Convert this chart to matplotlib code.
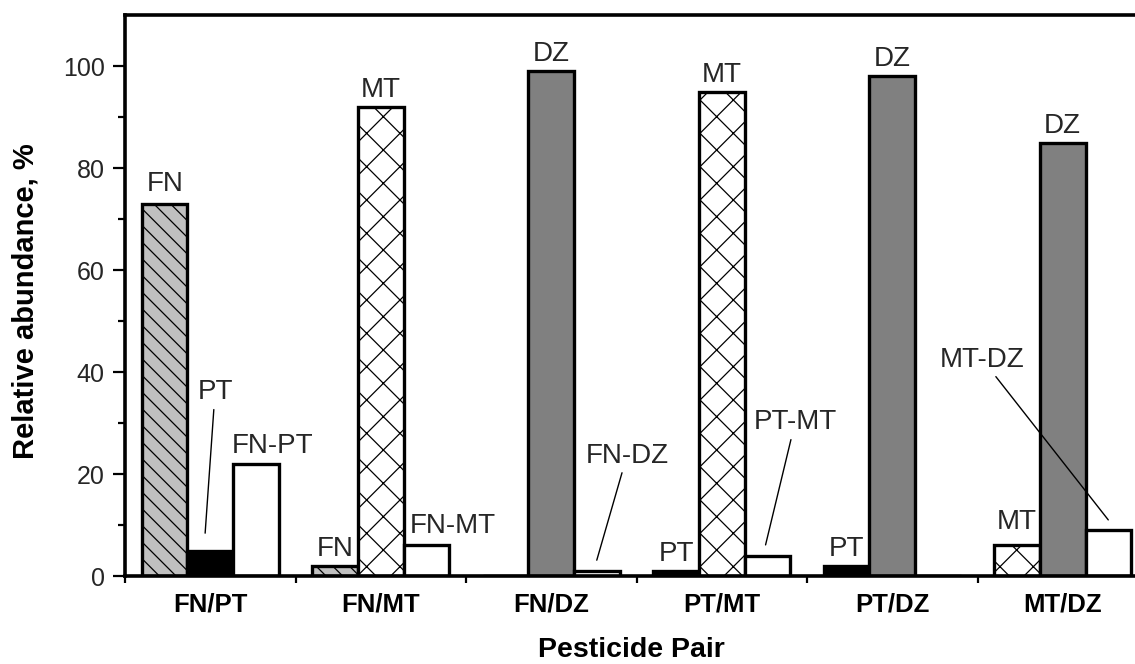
import numpy as np
import matplotlib
matplotlib.use("Agg")
import matplotlib.pyplot as plt

plt.rcParams["font.family"] = ["Liberation Sans", "DejaVu Sans"]
plt.rcParams["hatch.linewidth"] = 0.9

# pesticide pairs; every pair has the two single compounds and the mixed adduct
pairs = ["FN/PT", "FN/MT", "FN/DZ", "PT/MT", "PT/DZ", "MT/DZ"]
first_names = ["FN", "FN", "FN", "PT", "PT", "MT"]
second_names = ["PT", "MT", "DZ", "MT", "DZ", "DZ"]
combo_names = ["FN-PT", "FN-MT", "FN-DZ", "PT-MT", "PT-DZ", "MT-DZ"]

first_vals = [73, 2, 0, 1, 2, 6]
second_vals = [5, 92, 99, 95, 98, 85]
combo_vals = [22, 6, 1, 4, 0, 9]

# fill style per compound
styles = {
    "FN": dict(facecolor="#c0c0c0", hatch="\\\\"),
    "PT": dict(facecolor="black", hatch=None),
    "MT": dict(facecolor="white", hatch="x"),
    "DZ": dict(facecolor="#808080", hatch=None),
    "combo": dict(facecolor="white", hatch=None),
}

bar_w = 0.267
text_color = "#262626"

# label offsets (points) for the plain labels that don't sit straight on top
label_shift = {(0, 0): (0, 9), (0, 2): (12, 8), (1, 2): (19, 9), (5, 0): (0, 12)}
# labels with a leader line: text centre (data coords) and gap above the bar
leaders = {
    (0, 1): ((0.528, 36.0), -0.03, 3.4),
    (2, 2): ((2.944, 23.6), 0.0, 2.1),
    (3, 2): ((3.930, 30.1), -0.01, 2.1),
    (5, 2): ((5.030, 42.4), 0.0, 2.0),
}

fig = plt.figure(figsize=(11.35, 6.64), dpi=100)
ax = fig.add_axes([125 / 1135, 88 / 664, 1023 / 1135, 561 / 664])

for g in range(len(pairs)):
    center = g + 0.5
    slots = [
        (first_names[g], first_vals[g], styles[first_names[g]]),
        (second_names[g], second_vals[g], styles[second_names[g]]),
        (combo_names[g], combo_vals[g], styles["combo"]),
    ]
    for s, (name, val, st) in enumerate(slots):
        x = center + (s - 1) * bar_w
        ax.bar(x, val, width=bar_w, facecolor=st["facecolor"], hatch=st["hatch"],
               edgecolor="black", linewidth=2.4, zorder=2)
        if val == 0:
            continue
        if (g, s) in leaders:
            (tx, ty), ex, ey = leaders[(g, s)]
            ax.annotate(name, xy=(x + ex, val + ey), xytext=(tx, ty),
                        ha="center", va="center", fontsize=20, color=text_color,
                        arrowprops=dict(arrowstyle="-", color="black", lw=1.0,
                                        shrinkA=1, shrinkB=0))
        else:
            dx, dy = label_shift.get((g, s), (0, 7))
            ax.annotate(name, xy=(x, val), xytext=(dx, dy), textcoords="offset points",
                        ha="center", va="baseline", fontsize=20, color=text_color)

ax.set_xlim(0, 6)
ax.set_ylim(0, 110)

ax.set_yticks(np.arange(0, 101, 20))
ax.set_yticks(np.arange(10, 100, 20), minor=True)
ax.tick_params(axis="y", which="major", direction="out", length=8.5, width=1.6,
               labelsize=18, pad=6, labelcolor=text_color)
ax.tick_params(axis="y", which="minor", direction="out", length=5, width=1.6)

ax.set_xticks(np.arange(0, 7))
ax.set_xticklabels([""] * 7)
ax.set_xticks(np.arange(6) + 0.5, minor=True)
ax.set_xticklabels(pairs, minor=True, fontweight="bold")
ax.tick_params(axis="x", which="major", direction="out", length=5, width=1.6)
ax.tick_params(axis="x", which="minor", length=0, pad=12, labelsize=18.5,
               labelcolor="black")

for side in ["left", "top", "bottom"]:
    ax.spines[side].set_linewidth(2.6)
ax.spines["right"].set_visible(False)

ax.set_ylabel("Relative abundance, %", fontsize=21, fontweight="bold")
ax.set_xlabel("Pesticide Pair", fontsize=20.5, fontweight="bold")
ax.yaxis.set_label_coords(-0.084, 0.49)
ax.xaxis.set_label_coords(0.495, -0.108)
ax.xaxis.label.set_va("top")

fig.savefig("out.png", dpi=100)
